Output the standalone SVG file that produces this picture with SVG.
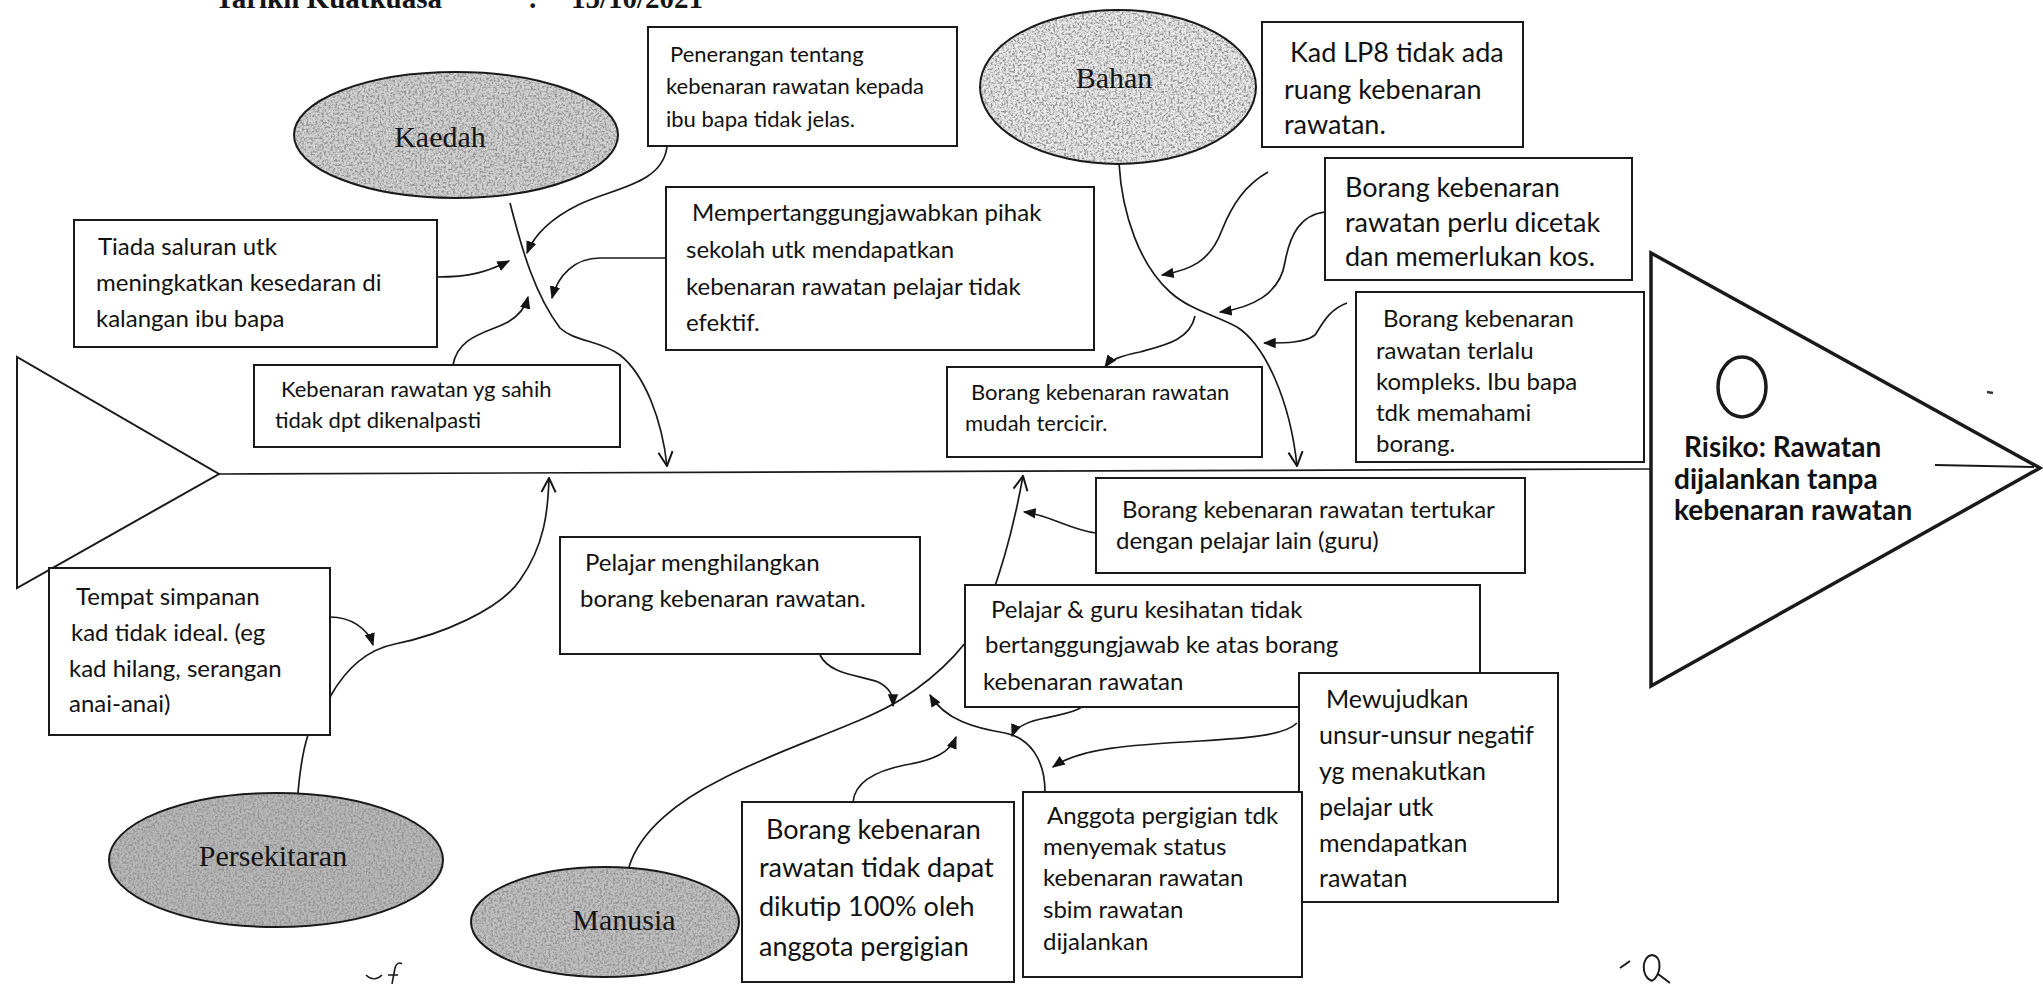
<svg xmlns="http://www.w3.org/2000/svg" width="2043" height="984" viewBox="0 0 2043 984">
<style>
.box{fill:#fff;stroke:#1a1a1a;stroke-width:2}
.t{font-family:Lato,"Liberation Sans",sans-serif;fill:#111}
.lbl{font-family:"Liberation Serif","Times New Roman",serif;fill:#141414;font-size:30px;text-anchor:middle}
.hdr{font-family:"Liberation Serif","Times New Roman",serif;font-weight:bold;font-size:29px;fill:#141414}
.c{fill:none;stroke:#1a1a1a;stroke-width:1.7}
.ca{fill:none;stroke:#1a1a1a;stroke-width:1.7;marker-end:url(#af)}
.cv{fill:none;stroke:#1a1a1a;stroke-width:1.7;marker-end:url(#av)}
.eo{fill:none;stroke:#1a1a1a;stroke-width:2}
</style>
<defs>
<marker id="af" viewBox="0 0 10 10" refX="9" refY="5" markerWidth="13" markerHeight="13" markerUnits="userSpaceOnUse" orient="auto">
<path d="M0,1 L10,5 L0,9 z" fill="#141414"/>
</marker>
<marker id="av" viewBox="0 0 12 12" refX="11" refY="6" markerWidth="17" markerHeight="17" markerUnits="userSpaceOnUse" orient="auto">
<path d="M1,1 L11,6 L1,11" fill="none" stroke="#141414" stroke-width="1.4"/>
</marker>
<filter id="grain" x="0" y="0" width="100%" height="100%">
<feTurbulence type="fractalNoise" baseFrequency="0.45" numOctaves="2" seed="4" result="n"/>
<feColorMatrix in="n" type="matrix" values="0 0 0 0 0.3  0 0 0 0 0.3  0 0 0 0 0.3  3.4 0 0 0 -1.4" result="dots"/>
<feComposite in="dots" in2="SourceGraphic" operator="in" result="d2"/>
<feMerge><feMergeNode in="SourceGraphic"/><feMergeNode in="d2"/></feMerge>
</filter>
</defs>
<rect width="2043" height="984" fill="#fff"/>

<g id="header">
<text class="hdr" x="215" y="8">Tarikh Kuatkuasa</text>
<text class="hdr" x="528" y="8">:</text>
<text class="hdr" x="571" y="8">15/10/2021</text>
</g>

<g id="head-left"><path d="M17,357 L17,588 L219,474 Z" fill="#fff" stroke="#1a1a1a" stroke-width="2"/></g>

<g id="connectors">
<path class="c" d="M219,474 L1651,469" stroke-width="2"/>
<path class="cv" d="M510,203 C522,250 535,295 560,328 C575,342 600,340 620,355 C645,375 662,420 667,466"/>
<path class="ca" d="M667,147 C662,185 612,188 578,205 C548,220 533,238 527,253"/>
<path class="ca" d="M437,277 C470,277 487,272 509,261"/>
<path class="ca" d="M666,258 L600,258 C575,258 558,275 552,298"/>
<path class="ca" d="M453,365 C458,335 490,332 508,322 C520,315 526,305 528,297"/>
<path class="cv" d="M1119,163 C1122,215 1140,265 1170,292 C1190,310 1215,315 1237,327 C1265,345 1290,400 1297,466"/>
<path class="ca" d="M1195,316 C1190,340 1165,345 1140,352 C1120,356 1110,360 1105,367"/>
<path class="ca" d="M1268,172 C1245,185 1232,205 1222,230 C1210,262 1190,270 1162,275"/>
<path class="ca" d="M1325,212 C1300,215 1290,235 1285,262 C1280,295 1250,308 1220,312"/>
<path class="ca" d="M1347,303 C1328,310 1322,325 1315,335 C1305,343 1285,343 1264,343"/>
<path class="cv" d="M330,697 C345,670 365,650 395,644 C440,635 500,610 520,580 C545,545 548,510 549,478"/>
<path class="c" d="M298,793 C300,770 303,750 308,735"/>
<path class="ca" d="M330,617 C350,617 368,628 373,645"/>
<path class="cv" d="M629,867 C640,830 680,800 720,780 C780,748 860,725 900,700 C940,675 975,640 990,600 C1005,560 1015,520 1023,476"/>
<path class="ca" d="M1096,533 C1070,530 1050,515 1024,512"/>
<path class="ca" d="M820,655 C830,675 860,675 878,682 C890,688 893,695 893,706"/>
<path class="ca" d="M1045,792 C1045,760 1030,738 1005,733 C975,728 945,720 930,695"/>
<path class="ca" d="M1093,690 C1090,710 1070,713 1045,718 C1025,722 1015,728 1012,736"/>
<path class="ca" d="M853,802 C855,780 880,770 905,765 C935,760 950,752 956,737"/>
<path class="ca" d="M1297,723 C1285,735 1250,738 1200,741 C1130,745 1080,748 1053,767"/>
</g>

<g id="kaedah">
<ellipse cx="456" cy="135" rx="162" ry="63" fill="#d2d2d2" filter="url(#grain)"/>
<ellipse class="eo" cx="456" cy="135" rx="162" ry="63"/>
<text class="lbl" x="440" y="147">Kaedah</text>
</g>
<g id="bahan">
<ellipse cx="1118" cy="87" rx="138" ry="77" fill="#eaeaea" filter="url(#grain)"/>
<ellipse class="eo" cx="1118" cy="87" rx="138" ry="77"/>
<text class="lbl" x="1114" y="88">Bahan</text>
</g>
<g id="persekitaran">
<ellipse cx="276" cy="860" rx="167" ry="67" fill="#b8b8b8" filter="url(#grain)"/>
<ellipse class="eo" cx="276" cy="860" rx="167" ry="67"/>
<text class="lbl" x="273" y="866">Persekitaran</text>
</g>
<g id="manusia">
<ellipse cx="605" cy="922" rx="134" ry="55" fill="#c0c0c0" filter="url(#grain)"/>
<ellipse class="eo" cx="605" cy="922" rx="134" ry="55"/>
<text class="lbl" x="624" y="930">Manusia</text>
</g>

<g id="penerangan">
<rect class="box" x="648" y="27" width="309" height="119"/>
<text class="t" font-size="22"><tspan x="670" y="62">Penerangan tentang</tspan><tspan x="666" y="94">kebenaran rawatan kepada</tspan><tspan x="666" y="127">ibu bapa tidak jelas.</tspan></text>
</g>
<g id="kad-lp8">
<rect class="box" x="1262" y="22" width="261" height="125"/>
<text class="t" font-size="27"><tspan x="1290" y="62">Kad LP8 tidak ada</tspan><tspan x="1284" y="99">ruang kebenaran</tspan><tspan x="1284" y="134">rawatan.</tspan></text>
</g>
<g id="dicetak">
<rect class="box" x="1325" y="158" width="307" height="122"/>
<text class="t" font-size="27"><tspan x="1345" y="197">Borang kebenaran</tspan><tspan x="1345" y="232">rawatan perlu dicetak</tspan><tspan x="1345" y="266">dan memerlukan kos.</tspan></text>
</g>
<g id="kompleks">
<rect class="box" x="1356" y="292" width="288" height="170"/>
<text class="t" font-size="24"><tspan x="1383" y="327">Borang kebenaran</tspan><tspan x="1376" y="359">rawatan terlalu</tspan><tspan x="1376" y="390">kompleks. Ibu bapa</tspan><tspan x="1376" y="421">tdk memahami</tspan><tspan x="1376" y="452">borang.</tspan></text>
</g>
<g id="tiada">
<rect class="box" x="74" y="220" width="363" height="127"/>
<text class="t" font-size="24"><tspan x="98" y="255">Tiada saluran utk</tspan><tspan x="96" y="291">meningkatkan kesedaran di</tspan><tspan x="96" y="327">kalangan ibu bapa</tspan></text>
</g>
<g id="mempertanggungjawabkan">
<rect class="box" x="666" y="187" width="428" height="163"/>
<text class="t" font-size="24"><tspan x="692" y="221">Mempertanggungjawabkan pihak</tspan><tspan x="686" y="258">sekolah utk mendapatkan</tspan><tspan x="686" y="295">kebenaran rawatan pelajar tidak</tspan><tspan x="686" y="331">efektif.</tspan></text>
</g>
<g id="sahih">
<rect class="box" x="254" y="365" width="366" height="82"/>
<text class="t" font-size="22"><tspan x="281" y="397">Kebenaran rawatan yg sahih</tspan><tspan x="275" y="428">tidak dpt dikenalpasti</tspan></text>
</g>
<g id="tercicir">
<rect class="box" x="947" y="367" width="315" height="90"/>
<text class="t" font-size="22"><tspan x="971" y="400">Borang kebenaran rawatan</tspan><tspan x="965" y="431">mudah tercicir.</tspan></text>
</g>
<g id="tertukar">
<rect class="box" x="1096" y="478" width="429" height="95"/>
<text class="t" font-size="24"><tspan x="1122" y="518">Borang kebenaran rawatan tertukar</tspan><tspan x="1116" y="549">dengan pelajar lain (guru)</tspan></text>
</g>
<g id="menghilangkan">
<rect class="box" x="560" y="537" width="360" height="117"/>
<text class="t" font-size="24"><tspan x="585" y="571">Pelajar menghilangkan</tspan><tspan x="580" y="607">borang kebenaran rawatan.</tspan></text>
</g>
<g id="tempat">
<rect class="box" x="49" y="568" width="281" height="167"/>
<text class="t" font-size="24"><tspan x="76" y="605">Tempat simpanan</tspan><tspan x="71" y="641">kad tidak ideal. (eg</tspan><tspan x="69" y="677">kad hilang, serangan</tspan><tspan x="69" y="712">anai-anai)</tspan></text>
</g>
<g id="bertanggungjawab">
<rect class="box" x="965" y="585" width="515" height="122"/>
<text class="t" font-size="24"><tspan x="991" y="618">Pelajar &amp; guru kesihatan tidak</tspan><tspan x="985" y="653">bertanggungjawab ke atas borang</tspan><tspan x="983" y="690">kebenaran rawatan</tspan></text>
</g>
<g id="mewujudkan">
<rect class="box" x="1299" y="673" width="259" height="229"/>
<text class="t" font-size="25"><tspan x="1326" y="708">Mewujudkan</tspan><tspan x="1319" y="744">unsur-unsur negatif</tspan><tspan x="1319" y="780">yg menakutkan</tspan><tspan x="1319" y="816">pelajar utk</tspan><tspan x="1319" y="852">mendapatkan</tspan><tspan x="1319" y="887">rawatan</tspan></text>
</g>
<g id="dikutip">
<rect class="box" x="742" y="802" width="272" height="180"/>
<text class="t" font-size="27"><tspan x="766" y="839">Borang kebenaran</tspan><tspan x="759" y="877">rawatan tidak dapat</tspan><tspan x="759" y="916">dikutip 100% oleh</tspan><tspan x="759" y="956">anggota pergigian</tspan></text>
</g>
<g id="menyemak">
<rect class="box" x="1023" y="792" width="279" height="185"/>
<text class="t" font-size="24"><tspan x="1047" y="824">Anggota pergigian tdk</tspan><tspan x="1043" y="855">menyemak status</tspan><tspan x="1043" y="886">kebenaran rawatan</tspan><tspan x="1043" y="918">sbim rawatan</tspan><tspan x="1043" y="950">dijalankan</tspan></text>
</g>

<g id="risiko">
<path d="M1651,253 L1651,686 L2040,468 Z" fill="#fff" stroke="#1a1a1a" stroke-width="3.5" stroke-linejoin="miter"/>
<line x1="1935" y1="465" x2="2034" y2="467" stroke="#1a1a1a" stroke-width="2"/>
<line x1="1987" y1="392" x2="1993" y2="393" stroke="#333" stroke-width="2.5"/>
<ellipse cx="1742" cy="387" rx="24" ry="30" fill="none" stroke="#1a1a1a" stroke-width="3.5"/>
<text class="t" font-size="28" font-weight="bold"><tspan x="1684" y="457">Risiko: Rawatan</tspan><tspan x="1674" y="489">dijalankan tanpa</tspan><tspan x="1674" y="520">kebenaran rawatan</tspan></text>
</g>

<g id="marks" fill="none" stroke="#1a1a1a" stroke-width="2">
<path d="M1620,968 L1630,961"/>
<path d="M1652,981 C1640,976 1642,956 1652,955 C1663,956 1661,976 1652,981 M1658,974 L1670,983"/>
<path d="M366,975 C371,980 377,980 382,975 M392,984 L395,968 C396,963 400,962 402,964 M388,975 L398,975" stroke-width="1.6"/>
</g>
</svg>
